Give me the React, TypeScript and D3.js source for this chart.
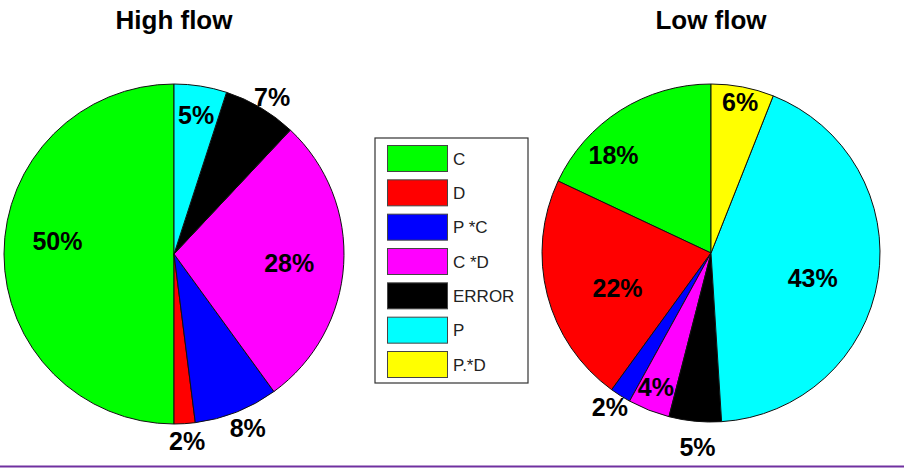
import React from "react";
import * as d3 from "d3";

const categories = ["C", "D", "P*C", "C*D", "ERROR", "P", "P.*D"];
const legendLabels = ["C", "D", "P *C", "C *D", "ERROR", "P", "P.*D"];
const colors = ["#00ff00", "#ff0000", "#0000ff", "#ff00ff", "#000000", "#00ffff", "#ffff00"];

const highFlow = [50, 2, 8, 28, 7, 5, 0];
const lowFlow = [18, 22, 2, 4, 5, 43, 6];

const titles = ["High flow", "Low flow"];

// label placement: [radius factor, angle in degrees clockwise from top]
const highLabelPos: [number, number][] = [[0.69, -83.6], [1.1, 176], [1.11, 157], [0.68, 94.5], [1.09, 32], [0.83, 9], [0, 0]];
const lowLabelPos: [number, number][] = [[0.82, -44.7], [0.59, -110.4], [1.09, -146.7], [0.86, -157.7], [1.15, -176], [0.62, 104], [0.91, 10.9]];

const W = 904;
const H = 471;
const font = "'Liberation Sans', Arial, sans-serif";

function Pie({ values, labelPos, cx, cy, r, title }: { values: number[]; labelPos: [number, number][]; cx: number; cy: number; r: number; title: string }) {
  const pieGen = d3
    .pie<number>()
    .sort(null)
    .value((d) => d)
    .startAngle(0)
    .endAngle(-2 * Math.PI);
  const arcs = pieGen(values);
  const arcGen = d3.arc<d3.PieArcDatum<number>>().innerRadius(0).outerRadius(r);
  return (
    <g>
      <text x={cx} y={29} textAnchor="middle" fontFamily={font} fontWeight="bold" fontSize={26} fill="#000">
        {title}
      </text>
      <g transform={`translate(${cx},${cy})`}>
        {arcs.map((a, i) =>
          values[i] > 0 ? (
            <path key={i} d={arcGen(a) || ""} fill={colors[i]} stroke="#111" strokeWidth={1} strokeLinejoin="round" />
          ) : null
        )}
        {arcs.map((a, i) => {
          if (values[i] <= 0) return null;
          const [f, deg] = labelPos[i];
          const ang = (deg * Math.PI) / 180;
          const x = Math.sin(ang) * r * f;
          const y = -Math.cos(ang) * r * f;
          return (
            <text key={"t" + i} x={x} y={y} dy="0.36em" textAnchor="middle" fontFamily={font} fontWeight="bold" fontSize={25} fill="#000">
              {d3.format(".0f")(values[i])}%
            </text>
          );
        })}
      </g>
    </g>
  );
}

export default function App() {
  const legendX = 375;
  const legendY = 138;
  const legendW = 153;
  const legendH = 245;
  const rowY = d3.scalePoint<string>().domain(categories).range([158.5, 364.5]);
  return (
    <svg width={W} height={H} style={{ position: "absolute", left: 0, top: 0, background: "#fff" }}>
      <rect x={0} y={0} width={W} height={H} fill="#fff" />
      <Pie values={highFlow} labelPos={highLabelPos} cx={174} cy={254} r={170} title={titles[0]} />
      <Pie values={lowFlow} labelPos={lowLabelPos} cx={711} cy={253} r={169} title={titles[1]} />
      <rect x={legendX} y={legendY} width={legendW} height={legendH} fill="#fff" stroke="#333" strokeWidth={1.2} />
      {categories.map((c, i) => {
        const y = rowY(c) as number;
        return (
          <g key={c}>
            <rect x={387.5} y={y - 13} width={60} height={26} fill={colors[i]} stroke="#444" strokeWidth={1} />
            <text x={453} y={y} dy="0.36em" fontFamily={font} fontSize={17} fill="#222">
              {legendLabels[i]}
            </text>
          </g>
        );
      })}
      <line x1={0} x2={W} y1={466.5} y2={466.5} stroke="#7030a0" strokeWidth={2} />
    </svg>
  );
}
